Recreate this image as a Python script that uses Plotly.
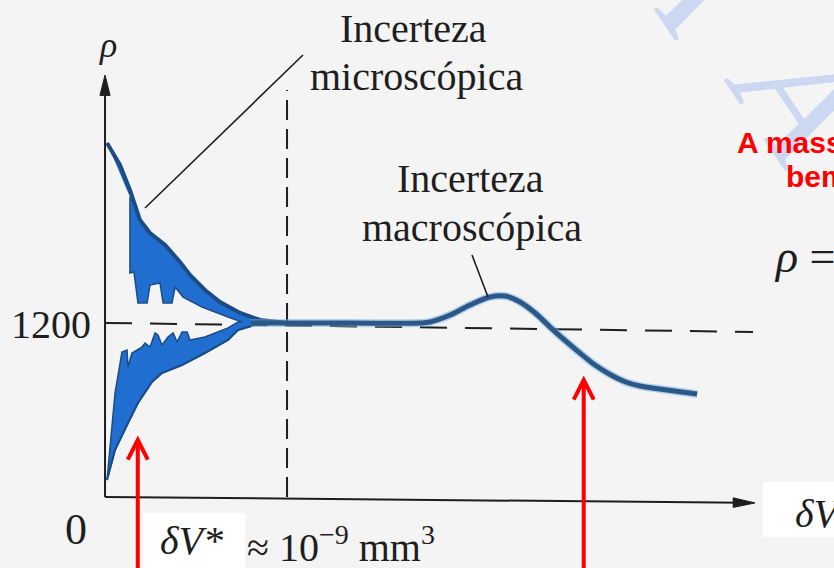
import plotly.graph_objects as go

# Density ρ against sampling volume δV (δV measured in units of δV*)
RHO_REF = 1200

# microscopic-uncertainty band: outer and inner edges of the upper and lower lobes
upper_outer_v = [0.011, 0.082, 0.137, 0.192, 0.247, 0.330, 0.412, 0.467, 0.549, 0.632, 0.742, 0.852, 1.0]
upper_outer_rho = [2441, 2290, 2117, 1910, 1821, 1738, 1621, 1531, 1428, 1345, 1269, 1221, 1200]
upper_inner_v = [0.137, 0.137, 0.159, 0.181, 0.231, 0.247, 0.302, 0.319, 0.368, 0.385, 0.429, 0.533, 0.676, 0.753]
upper_inner_rho = [2069, 1545, 1552, 1338, 1338, 1462, 1476, 1338, 1338, 1448, 1379, 1310, 1241, 1207]
lower_inner_v = [0.011, 0.055, 0.093, 0.121, 0.126, 0.148, 0.203, 0.220, 0.247, 0.275, 0.291, 0.313,
                 0.346, 0.374, 0.396, 0.423, 0.451, 0.467, 0.549, 0.676, 0.731]
lower_inner_rho = [117, 717, 1000, 1014, 897, 993, 1034, 1062, 1034, 1131, 1117, 1048,
                   1103, 1131, 1069, 1138, 1138, 1083, 1103, 1166, 1207]
lower_outer_v = [0.011, 0.055, 0.126, 0.181, 0.258, 0.313, 0.423, 0.549, 0.676, 0.731, 0.824, 1.0]
lower_outer_rho = [117, 324, 510, 648, 793, 855, 910, 993, 1083, 1152, 1186, 1200]

# macroscopic-uncertainty curve
macro_v = [0.80, 1.0, 1.346, 1.731, 1.786, 1.896, 2.005, 2.115, 2.198, 2.280, 2.363, 2.445,
           2.527, 2.610, 2.692, 2.775, 2.857, 2.940, 3.049, 3.159, 3.253]
macro_rho = [1200, 1200, 1200, 1200, 1207, 1255, 1324, 1379, 1386, 1345, 1269, 1172,
             1080, 992, 910, 845, 795, 765, 745, 726, 710]

# axis extents and pointer positions (δV, ρ)
AXIS_V_END = 3.571
AXIS_RHO_END = 2910
DV_STAR = 1.0
POINTER_V = [0.18, 2.63]
POINTER_RHO = [393, 807]

BG = "#f4f4f4"
FILL = "#1f6ed0"
EDGE = "#1b4c84"
MACRO = "#2b5886"
INK = "#1e1e1e"
SERIF = "Liberation Serif"

W, H = 834, 568
X_RANGE = [-0.577, 4.005]
Y_RANGE = [-490, 3428]


def px(x):
    return x / W


def py(y):
    return 1 - y / H


fig = go.Figure()

# filled band: upper outer -> lower outer (reversed) -> lower inner -> upper inner (reversed)
band_v = upper_outer_v + lower_outer_v[::-1] + lower_inner_v + upper_inner_v[::-1]
band_rho = upper_outer_rho + lower_outer_rho[::-1] + lower_inner_rho + upper_inner_rho[::-1]
fig.add_trace(go.Scatter(x=band_v, y=band_rho, mode="lines", fill="toself",
                         fillcolor=FILL, line=dict(color=EDGE, width=1.5), hoverinfo="skip"))
fig.add_trace(go.Scatter(x=upper_outer_v, y=upper_outer_rho, mode="lines",
                         line=dict(color=EDGE, width=4), hoverinfo="skip"))
fig.add_trace(go.Scatter(x=lower_outer_v, y=lower_outer_rho, mode="lines",
                         line=dict(color=EDGE, width=2), hoverinfo="skip"))

# macroscopic curve with a soft halo
fig.add_trace(go.Scatter(x=macro_v, y=macro_rho, mode="lines",
                         line=dict(color="rgba(120,175,225,0.5)", width=8, shape="spline", smoothing=1.0),
                         hoverinfo="skip"))
fig.add_trace(go.Scatter(x=macro_v, y=macro_rho, mode="lines",
                         line=dict(color=MACRO, width=5, shape="spline", smoothing=1.0),
                         hoverinfo="skip"))

shapes = []
# reference lines
shapes.append(dict(type="line", xref="x", yref="y", x0=0, y0=RHO_REF, x1=3.56, y1=1138,
                   line=dict(color=INK, width=2, dash="27px,18px"), layer="below"))
shapes.append(dict(type="line", xref="x", yref="y", x0=DV_STAR, y0=0, x1=DV_STAR, y1=2807,
                   line=dict(color=INK, width=2, dash="20px,9px"), layer="below"))
# axes
shapes.append(dict(type="line", xref="x", yref="y", x0=0, y0=0, x1=0, y1=AXIS_RHO_END - 100,
                   line=dict(color=INK, width=2)))
shapes.append(dict(type="line", xref="x", yref="y", x0=0, y0=0, x1=AXIS_V_END - 0.06, y1=-40,
                   line=dict(color=INK, width=2)))
shapes.append(dict(type="path", xref="x", yref="y",
                   path=f"M 0,{AXIS_RHO_END} L -0.028,{AXIS_RHO_END - 140} L 0.028,{AXIS_RHO_END - 140} Z",
                   fillcolor=INK, line=dict(color=INK, width=1)))
shapes.append(dict(type="path", xref="x", yref="y",
                   path=f"M {AXIS_V_END},-41 L {AXIS_V_END - 0.12},-6 L {AXIS_V_END - 0.12},-72 Z",
                   fillcolor=INK, line=dict(color=INK, width=1)))

# leader lines
shapes.append(dict(type="line", xref="paper", yref="paper", x0=px(303), y0=py(55), x1=px(145), y1=py(208),
                   line=dict(color=INK, width=1.6)))
shapes.append(dict(type="line", xref="paper", yref="paper", x0=px(472), y0=py(255), x1=px(488), y1=py(297),
                   line=dict(color=INK, width=1.6)))

# white boxes behind pasted labels
shapes.append(dict(type="rect", xref="paper", yref="paper", x0=px(143), y0=py(568), x1=px(245), y1=py(513),
                   fillcolor="white", line=dict(width=0), layer="below"))
shapes.append(dict(type="rect", xref="paper", yref="paper", x0=px(763), y0=py(537), x1=px(834), y1=py(482),
                   fillcolor="white", line=dict(width=0), layer="below"))

# red pointers
for v, r in zip(POINTER_V, POINTER_RHO):
    shapes.append(dict(type="line", xref="x", yref="y", x0=v, y0=Y_RANGE[0], x1=v, y1=r - 10,
                       line=dict(color="red", width=4)))
    shapes.append(dict(type="path", xref="x", yref="y",
                       path=f"M {v - 0.055},{r - 135} L {v},{r} L {v + 0.055},{r - 135}",
                       line=dict(color="red", width=4)))

annotations = []


def label(text, x, y, size, color=INK, family=SERIF, xanchor="center", angle=0):
    annotations.append(dict(text=text, xref="paper", yref="paper", x=px(x), y=py(y),
                            xanchor=xanchor, yanchor="middle", showarrow=False, textangle=angle,
                            font=dict(family=family, size=size, color=color)))


# watermark
label("<i>A</i>", 800, 95, 165, color="rgba(196,210,240,0.85)", angle=56)
label("<i>A</i>", 690, -35, 165, color="rgba(196,210,240,0.85)", angle=56)

label("<i>ρ</i>", 108, 45, 36)
label("Incerteza", 413, 29, 40)
label("microscópica", 416, 77, 40)
label("Incerteza", 470, 179, 40)
label("macroscópica", 472, 227, 40)
label("1200", 51, 324, 40)
label("0", 76, 529, 44)
label("<i>δV*</i>", 191, 540, 40)
label("≈ 10<sup>−9</sup> mm<sup>3</sup>", 245, 544, 40, xanchor="left")
label("<i>δV</i>", 793, 513, 40, xanchor="left")
label("<b>A massa específica</b>", 735, 142, 30, color="#ff0000", family="Liberation Sans", xanchor="left")
label("<b>bem definida</b>", 784, 176, 30, color="#ff0000", family="Liberation Sans", xanchor="left")
label("<i>ρ</i> =", 772, 256, 46, xanchor="left")

fig.update_layout(
    width=W, height=H, margin=dict(l=0, r=0, t=0, b=0),
    paper_bgcolor=BG, plot_bgcolor=BG, showlegend=False,
    xaxis=dict(range=X_RANGE, visible=False, fixedrange=True),
    yaxis=dict(range=Y_RANGE, visible=False, fixedrange=True),
    shapes=shapes, annotations=annotations,
)

fig.write_html("out.html", config=dict(displayModeBar=False))
